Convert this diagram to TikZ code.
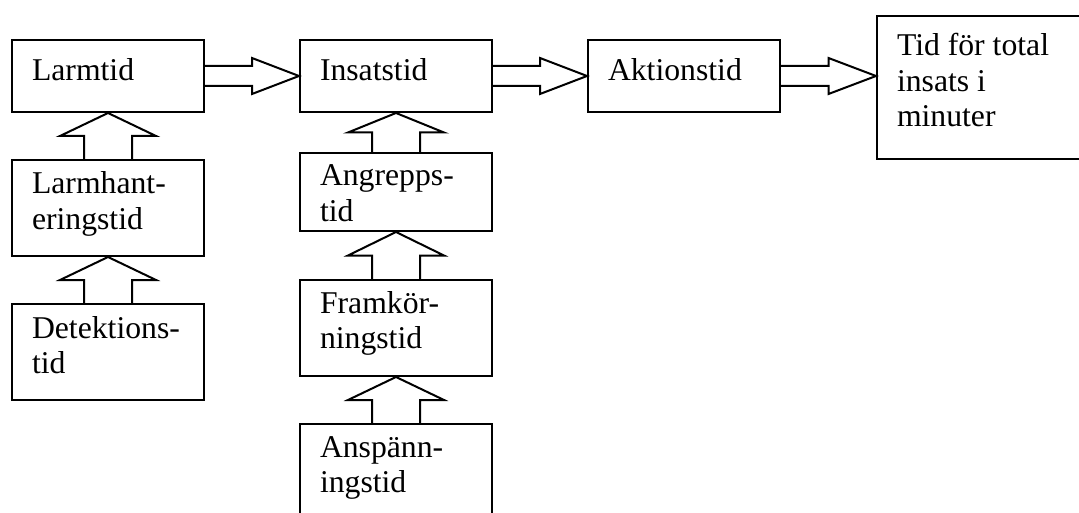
\documentclass[tikz,border=0pt]{standalone}
\usepackage{fontspec}
\setmainfont{Liberation Serif}
\usepackage{tikz}
\usetikzlibrary{positioning,calc}

\tikzset{
	ruta/.style={draw, line width=2pt, anchor=north west, inner xsep=20pt, inner ysep=0pt,
		text width=152pt, align=flush left, font=\fontsize{31.7pt}{35.5pt}\selectfont},
	enrad/.style={text height=41pt, text depth=31pt},
	tvarad/.style={text height=34pt, text depth=62pt},
	pil/.style={line width=2pt, line join=miter}
}

\begin{document}
\begin{tikzpicture}[x=1pt,y=1pt]
		\path[use as bounding box, clip] (0,0) rectangle (1079,-513);
		
		% oversta raden
		\node[ruta, enrad] (larm) at (11,-39) {Larmtid};
		\node[ruta, enrad] (insats) at (299,-39) {Insatstid};
		\node[ruta, enrad] (aktion) at (587,-39) {Aktionstid};
		\node[ruta, text width=190pt, text height=40pt, text depth=103pt] (total) at (876,-15) {Tid för total\\ insats i\\ minuter};
		
		% under larmtid
		\node[ruta, tvarad] (lhant) at (11,-159) {Larmhant-\\ eringstid};
		\node[ruta, tvarad] (detek) at (11,-303) {Detektions-\\ tid};
		
		% under insatstid
		\node[ruta, text height=33pt, text depth=45pt] (angrepp) at (299,-152) {Angrepps-\\ tid};
		\node[ruta, text height=33pt, text depth=63pt] (framk) at (299,-279) {Framkör-\\ ningstid};
		\node[ruta, text height=33pt, text depth=63pt] (ansp) at (299,-423) {Anspänn-\\ ingstid};
		
		% pilar at hoger
		\foreach \a/\b in {larm/insats, insats/aktion, aktion/total}{
			\coordinate (m) at ($(\a.east)!0.5!(\b.west |- \a.east)$);
			\draw[pil] ([yshift=10pt]\a.east) -- ([yshift=10pt]m) -- ([yshift=18pt]m) -- (\b.west |- \a.east)
				-- ([yshift=-18pt]m) -- ([yshift=-10pt]m) -- ([yshift=-10pt]\a.east);
		}
		
		% pilar uppat
		\foreach \a/\b in {lhant/larm, detek/lhant, angrepp/insats, framk/angrepp, ansp/framk}{
			\coordinate (m) at ($(\a.north)!0.5!(\b.south)$);
			\draw[pil] ([xshift=-24pt]\a.north) -- ([xshift=-24pt]m) -- ([xshift=-48pt]m) -- (\b.south)
				-- ([xshift=48pt]m) -- ([xshift=24pt]m) -- ([xshift=24pt]\a.north);
		}
	\end{tikzpicture}
\end{document}
